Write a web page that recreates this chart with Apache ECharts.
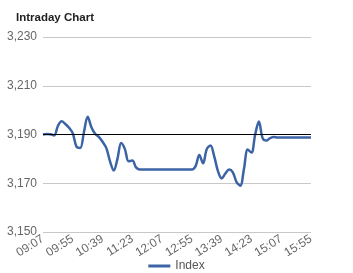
<!DOCTYPE html>
<html><head><meta charset="utf-8">
<script src="https://cdn.jsdelivr.net/npm/echarts@6/dist/echarts.min.js"></script>
<style>html,body{margin:0;padding:0;background:#fff}#c{width:353px;height:273px}</style>
</head><body><div id="c"></div>
<script>
var times = ["09:07","09:13","09:19","09:25","09:31","09:37","09:43","09:49","09:55",
"10:00","10:06","10:11","10:17","10:22","10:28","10:33","10:39",
"10:44","10:50","10:55","11:01","11:06","11:12","11:17","11:23",
"11:28","11:34","11:39","11:45","11:50","11:56","12:01","12:07",
"12:13","12:19","12:25","12:31","12:37","12:43","12:49","12:55",
"13:00","13:06","13:11","13:17","13:22","13:28","13:33","13:39",
"13:44","13:50","13:55","14:01","14:06","14:12","14:17","14:23",
"14:28","14:34","14:39","14:45","14:50","14:56","15:01","15:07",
"15:13","15:19","15:25","15:31","15:37","15:43","15:49","15:55"];
var tickLabels = ["09:07","09:55","10:39","11:23","12:07","12:55","13:39","14:23","15:07","15:55"];
var indexValues = [3190,3190.2,3190.1,3189.6,3193.5,3195.4,3194.3,3192.8,3190.5,3185,
3184.5,3191,3197.3,3193,3190.3,3189,3187,3184.5,3179,3175.2,
3180,3186.5,3184,3179,3179.3,3176.5,3175.6,3175.6,3175.6,3175.6,
3175.6,3175.6,3175.6,3175.6,3175.6,3175.6,3175.6,3175.6,3175.6,3175.6,
3175.6,3177,3181.6,3178.2,3184,3185.5,3181,3175,3172,3174,
3175.6,3174.5,3170.5,3169,3176,3183.8,3182.6,3190,3195.3,3188.5,
3187.5,3188.5,3189,3188.8,3188.8,3188.8,3188.8,3188.8,3188.8,3188.8,
3188.8,3188.8,3188.8];
var prevClose = 3190;
var yTicks = [3150,3170,3190,3210,3230];

var chart = echarts.init(document.getElementById('c'));
chart.setOption({
  animation:false,
  title:{text:'Intraday Chart',left:11,top:7,textStyle:{fontFamily:'Liberation Sans, Arial',fontSize:11.5,fontWeight:'bold',color:'#222'}},
  grid:{left:43,right:42,top:37,bottom:41,containLabel:false},
  legend:{bottom:-4,left:'center',itemWidth:22,itemHeight:3,icon:'rect',
    textStyle:{fontFamily:'Liberation Sans, Arial',fontSize:12,color:'#555'},data:['Index']},
  xAxis:{type:'category',data:times,boundaryGap:false,
    axisLine:{show:false},axisTick:{show:false},
    axisLabel:{rotate:32,fontFamily:'Liberation Sans, Arial',fontSize:12,color:'#666',margin:6,
      interval:function(i,v){return tickLabels.indexOf(v)>=0;}},
    splitLine:{show:false}},
  yAxis:{type:'value',min:yTicks[0],max:yTicks[yTicks.length-1],interval:20,
    axisLine:{show:false},axisTick:{show:false},
    axisLabel:{fontFamily:'Liberation Sans, Arial',fontSize:12,color:'#666',margin:6,
      formatter:function(v){return v.toLocaleString('en-US');}},
    splitLine:{lineStyle:{color:'#c8c8c8',width:1}}},
  series:[{name:'Index',type:'line',data:indexValues,smooth:0.35,showSymbol:false,
    lineStyle:{color:'#3c64a4',width:2.5},itemStyle:{color:'#3c64a4'},
    markLine:{silent:true,symbol:'none',label:{show:false},
      lineStyle:{color:'#000',width:1,type:'solid'},data:[{yAxis:prevClose}]}}]
});
</script></body></html>
